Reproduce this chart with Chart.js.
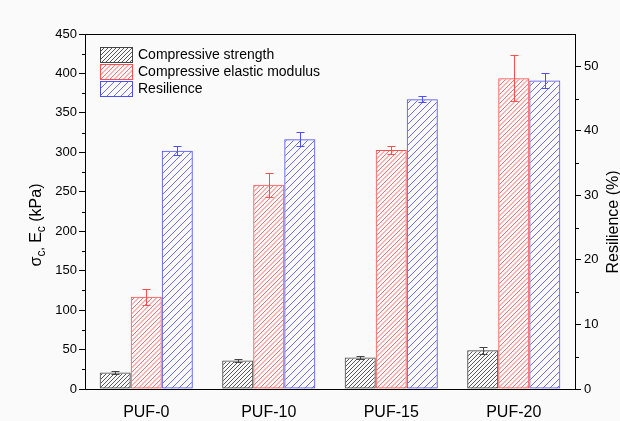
<!DOCTYPE html>
<html>
<head>
<meta charset="utf-8">
<script src="https://cdn.jsdelivr.net/npm/chart.js@4.4.0/dist/chart.umd.min.js"></script>
<style>
    html, body { margin: 0; padding: 0; background: #fafafa; }
    #wrap { width: 620px; height: 421px; }
</style>
</head>
<body>
<div id="wrap"><canvas id="chart" width="620" height="421"></canvas></div>
<script>
const categories = ['PUF-0', 'PUF-10', 'PUF-15', 'PUF-20'];
const strength = [21, 36, 40, 49];
const strengthErr = [1.5, 1.5, 1.5, 4];
const modulus = [117, 259, 303, 394];
const modulusErr = [10, 15, 5, 29];
const resilience = [36.9, 38.7, 44.9, 47.8];
const resilienceErr = [0.7, 1.1, 0.5, 1.1];
const leftTicks = [0, 50, 100, 150, 200, 250, 300, 350, 400, 450];
const rightTicks = [0, 10, 20, 30, 40, 50];

const FONT = 'Liberation Sans, Arial, sans-serif';

// diagonal "/" hatch inside a rectangle
function drawHatch(ctx, x0, y0, x1, y1, color, gap) {
    ctx.save();
    ctx.beginPath();
    ctx.rect(x0, y0, x1 - x0, y1 - y0);
    ctx.clip();
    ctx.strokeStyle = color;
    ctx.lineWidth = 1;
    ctx.beginPath();
    const start = Math.floor((x0 + y0) / gap) * gap;
    for (let c = start; c <= x1 + y1 + gap; c += gap) {
        ctx.moveTo(c - y1, y1);
        ctx.lineTo(c - y0, y0);
    }
    ctx.stroke();
    ctx.restore();
}

const extras = {
    id: 'extras',
    afterDatasetsDraw(chart) {
        const ctx = chart.ctx;
        const errs = [strengthErr, modulusErr, resilienceErr];
        chart.data.datasets.forEach((ds, i) => {
            const meta = chart.getDatasetMeta(i);
            const sc = chart.scales[ds.yAxisID];
            meta.data.forEach((bar, j) => {
                const p = bar.getProps(['x', 'y', 'base', 'width'], true);
                const l = p.x - p.width / 2, r = p.x + p.width / 2;
                const t = Math.min(p.y, p.base), b = Math.max(p.y, p.base);
                drawHatch(ctx, l + 1, t + 1, r - 1, b, ds.hatchColor, ds.hatchGap);
            });
            ctx.save();
            ctx.strokeStyle = ds.borderColor;
            ctx.lineWidth = 1;
            meta.data.forEach((bar, j) => {
                const v = ds.data[j], e = errs[i][j];
                const x = Math.round(bar.x) + 0.5;
                const yt = Math.round(sc.getPixelForValue(v + e)) + 0.5;
                const yb = Math.round(sc.getPixelForValue(v - e)) + 0.5;
                ctx.beginPath();
                ctx.moveTo(x, yt); ctx.lineTo(x, yb);
                ctx.moveTo(x - 4, yt); ctx.lineTo(x + 4, yt);
                ctx.moveTo(x - 4, yb); ctx.lineTo(x + 4, yb);
                ctx.stroke();
            });
            ctx.restore();
        });
    },
    afterDraw(chart) {
        const ctx = chart.ctx;
        const a = chart.chartArea;
        ctx.save();
        ctx.strokeStyle = '#000';
        ctx.lineWidth = 1;
        ctx.strokeRect(Math.round(a.left) + 0.5, Math.round(a.top) + 0.5,
            Math.round(a.right - a.left), Math.round(a.bottom - a.top));

        // minor ticks
        const y = chart.scales.y, y1 = chart.scales.y1;
        ctx.beginPath();
        for (let v = 25; v < 450; v += 50) {
            const p = Math.round(y.getPixelForValue(v)) + 0.5;
            ctx.moveTo(a.left - 3, p); ctx.lineTo(a.left, p);
        }
        for (let v = 5; v < 55; v += 10) {
            const p = Math.round(y1.getPixelForValue(v)) + 0.5;
            ctx.moveTo(a.right, p); ctx.lineTo(a.right + 4, p);
        }
        ctx.stroke();

        // left axis title with subscripts
        ctx.fillStyle = '#000';
        ctx.textBaseline = 'alphabetic';
        const parts = [['σ', 16, 0], ['c', 12, 4], [',', 12, 2], [' E', 16, 0], ['c', 12, 4], [' (kPa)', 16, 0]];
        let total = 0;
        parts.forEach(p => { ctx.font = p[1] + 'px ' + FONT; total += ctx.measureText(p[0]).width; });
        ctx.save();
        ctx.translate(41, 225);
        ctx.rotate(-Math.PI / 2);
        let x = -total / 2;
        parts.forEach(p => {
            ctx.font = p[1] + 'px ' + FONT;
            ctx.fillText(p[0], x, p[2]);
            x += ctx.measureText(p[0]).width;
        });
        ctx.restore();

        ctx.save();
        ctx.translate(618, 222);
        ctx.rotate(-Math.PI / 2);
        ctx.font = '16px ' + FONT;
        ctx.textAlign = 'center';
        ctx.fillText('Resilience (%)', 0, 0);
        ctx.restore();

        // legend
        chart.data.datasets.forEach((ds, i) => {
            const top = 47 + i * 17;
            drawHatch(ctx, 100, top, 133, top + 15, ds.hatchColor, ds.hatchGap);
            ctx.strokeStyle = ds.borderColor;
            ctx.strokeRect(100.5, top + 0.5, 32, 15);
            ctx.fillStyle = '#000';
            ctx.font = '14px ' + FONT;
            ctx.textBaseline = 'middle';
            ctx.fillText(ds.label, 138, top + 8);
        });
        ctx.restore();
    }
};

new Chart(document.getElementById('chart'), {
    type: 'bar',
    data: {
        labels: categories,
        datasets: [{
            label: 'Compressive strength',
            data: strength,
            backgroundColor: 'rgba(0,0,0,0)',
            borderColor: '#444',
            hatchColor: '#555',
            hatchGap: 4,
            borderWidth: 1,
            borderSkipped: false,
            yAxisID: 'y'
        }, {
            label: 'Compressive elastic modulus',
            data: modulus,
            backgroundColor: 'rgba(0,0,0,0)',
            borderColor: '#ff4d4d',
            hatchColor: '#ff6a6a',
            hatchGap: 4.5,
            borderWidth: 1,
            borderSkipped: false,
            yAxisID: 'y'
        }, {
            label: 'Resilience',
            data: resilience,
            backgroundColor: 'rgba(0,0,0,0)',
            borderColor: '#4d4dff',
            hatchColor: '#6a6aff',
            hatchGap: 7,
            borderWidth: 1,
            borderSkipped: false,
            yAxisID: 'y1'
        }]
    },
    options: {
        responsive: false,
        animation: false,
        layout: { padding: { top: 34, left: 0, right: 0, bottom: 0 } },
        datasets: { bar: { categoryPercentage: 0.76, barPercentage: 1 } },
        plugins: {
            legend: { display: false },
            tooltip: { enabled: false }
        },
        scales: {
            x: {
                grid: { display: false },
                border: { color: '#000' },
                ticks: { color: '#000', font: { family: FONT, size: 16 }, padding: 6 },
                afterFit(s) { s.height = 32; }
            },
            y: {
                position: 'left',
                min: 0, max: 450,
                afterBuildTicks(s) { s.ticks = leftTicks.map(v => ({ value: v })); },
                grid: { drawOnChartArea: false, tickLength: 6, color: '#000' },
                border: { color: '#000' },
                ticks: { color: '#000', font: { family: FONT, size: 13 }, padding: 2 },
                afterFit(s) { s.width = 85; }
            },
            y1: {
                position: 'right',
                min: 0, max: 55,
                afterBuildTicks(s) { s.ticks = rightTicks.map(v => ({ value: v })); },
                grid: { drawOnChartArea: false, tickLength: 6, color: '#000' },
                border: { color: '#000' },
                ticks: { color: '#000', font: { family: FONT, size: 13 }, padding: 3 },
                afterFit(s) { s.width = 45; }
            }
        }
    },
    plugins: [extras]
});
</script>
</body>
</html>
